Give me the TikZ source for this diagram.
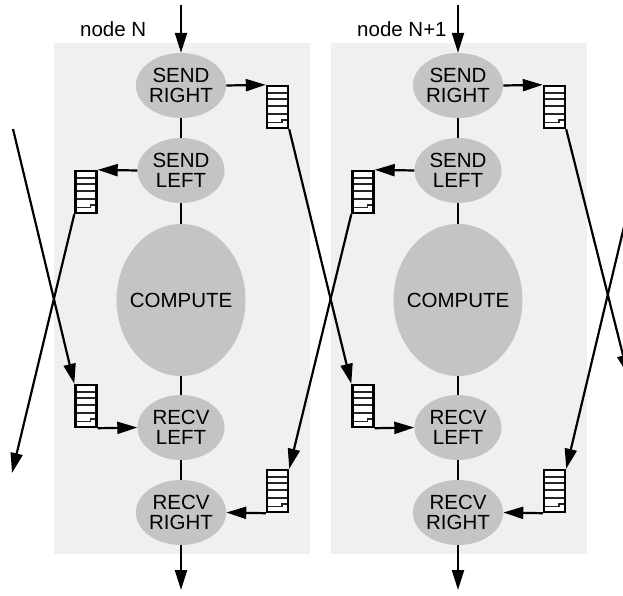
\documentclass[tikz,border=0pt]{standalone}
\usepackage{fontspec}
\setmainfont{Liberation Sans}
\usepackage{tikz}
\usetikzlibrary{shapes.geometric,arrows.meta,positioning}

\definecolor{panelgray}{HTML}{F0F0F0}
\definecolor{stagegray}{HTML}{C4C4C4}

\tikzset{
  link/.style={line width=2.2pt},
  flow/.style={link, -{Triangle[length=20pt,width=12pt]}},
  stage/.style={ellipse, fill=stagegray, inner sep=0pt, align=center,
    minimum width=87pt, minimum height=65pt},
  queue/.style={draw, line width=2.4pt, fill=white, inner sep=0pt,
    minimum width=21pt, minimum height=42pt,
    path picture={
      \foreach \d in {6.7,13.3,20,28.3}
        \draw[line width=1.8pt, black!85] ([yshift=-\d pt]path picture bounding box.north west) -- ([yshift=-\d pt]path picture bounding box.north east);
      \draw[line width=1.8pt, black!85] ([yshift=-36.5pt]path picture bounding box.north west) -- ++(15pt,0pt) -- ++(0pt,2.5pt) -- ++(6pt,0pt);
    }},
  panel/.style={fill=panelgray}
}

\begin{document}
\begin{tikzpicture}[x=1pt, y=-1pt, font=\fontsize{20.5}{20}\selectfont]
\clip (0,0) rectangle (623,595);

\foreach \n/\dx/\lab in {A/0/node N, B/277/node N+1} {
  \begin{scope}[xshift=\dx pt]
    \fill[panel] (54,43) rectangle (310,554);
    \node (Label\n) [anchor=base west, inner sep=0pt] at (80,36) {\lab};
    \coordinate (In\n) at (181,5);
    \coordinate (Out\n) at (181,590);
    \node (SendRight\n) [stage] at (181,85.5) {SEND\\RIGHT};
    \node (SendLeft\n) [stage] at (181,170.5) {SEND\\LEFT};
    \node (Compute\n) [stage, inner xsep=-7pt, minimum width=129pt, minimum height=152pt] at (181,300) {COMPUTE};
    \node (RecvLeft\n) [stage] at (181,427.5) {RECV\\LEFT};
    \node (RecvRight\n) [stage] at (181,512.5) {RECV\\RIGHT};
    % message buffers
    \node (QSendRight\n) [queue] at (277.5,107) {};
    \node (QSendLeft\n) [queue] at (86,192) {};
    \node (QRecvLeft\n) [queue] at (86,406) {};
    \node (QRecvRight\n) [queue] at (277.5,491) {};
    \draw[flow] (In\n) -- (SendRight\n);
    \draw[link] (SendRight\n) -- (SendLeft\n);
    \draw[link] (SendLeft\n) -- (Compute\n);
    \draw[link] (Compute\n) -- (RecvLeft\n);
    \draw[link] (RecvLeft\n) -- (RecvRight\n);
    \draw[flow] (RecvRight\n) -- (Out\n);
    \draw[flow] (SendRight\n.east) -- (QSendRight\n.north west);
    \draw[flow] (SendLeft\n.west) -- (QSendLeft\n.north east);
    \draw[flow] (QRecvLeft\n.south east) -- (RecvLeft\n.west);
    \draw[flow] (QRecvRight\n.south west) -- (RecvRight\n.east);
  \end{scope}
}

% links between neighbours
\coordinate (FromLeft) at (13,129);
\coordinate (ToLeft) at (12,473);
\coordinate (FromRight) at (628,210);
\coordinate (ToRight) at (628,375);
\draw[flow] (QSendRightA.south east) -- (QRecvLeftB.north west);
\draw[flow] (QSendLeftB.south west) -- (QRecvRightA.north east);
\draw[flow] (QSendLeftA.south west) -- (ToLeft);
\draw[flow] (FromLeft) -- (QRecvLeftA.north west);
\draw[flow, overlay] (QSendRightB.south east) -- (ToRight);
\draw[flow, overlay] (FromRight) -- (QRecvRightB.north east);
\end{tikzpicture}
\end{document}
